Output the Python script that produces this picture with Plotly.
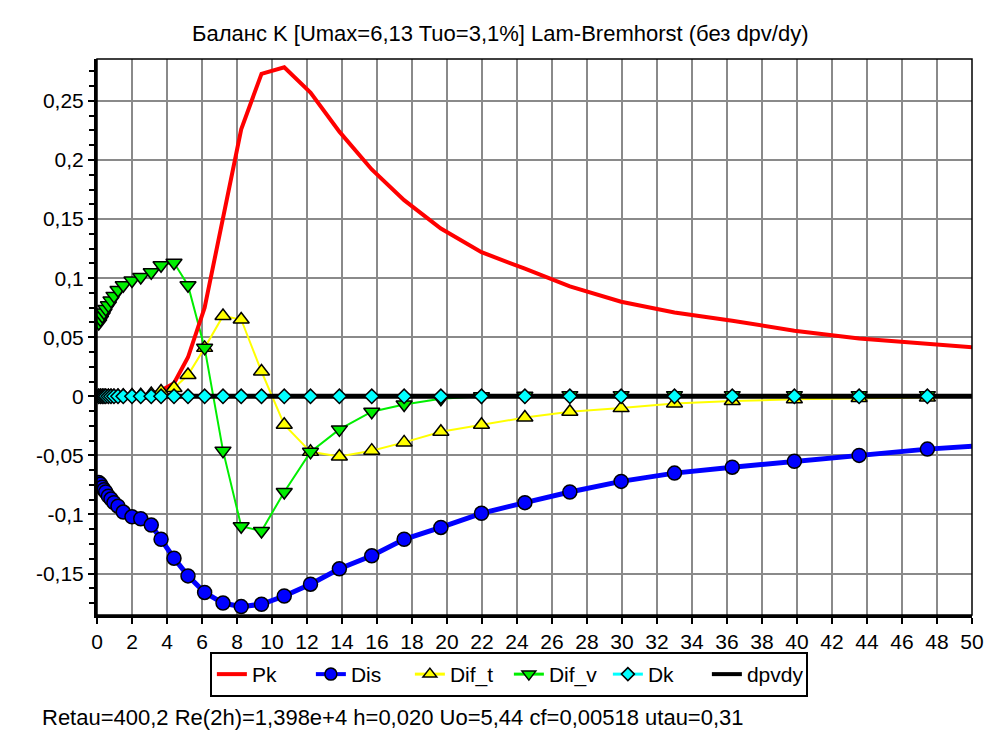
import plotly.graph_objects as go

# y+ positions of the profile stations
y_plus = [0.1, 0.2, 0.3, 0.4, 0.5, 0.65, 0.8, 0.97, 1.2, 1.5, 2.0, 2.5, 3.1, 3.66,
          4.4, 5.2, 6.15, 7.2, 8.24, 9.4, 10.7, 12.2, 13.85, 15.7, 17.55, 19.65,
          21.97, 24.45, 27.02, 29.95, 33.0, 36.3, 39.85, 43.55, 47.45, 51.3]

# production
pk = [0.0, 0.0, 0.0, 0.0, 0.0, 0.0, 0.0, 0.0, 0.0, 0.0002, 0.0004, 0.0008, 0.002, 0.005,
      0.011, 0.033, 0.075, 0.150, 0.226, 0.273, 0.2785, 0.257, 0.224, 0.192, 0.166, 0.142,
      0.122, 0.108, 0.093, 0.080, 0.071, 0.064, 0.0555, 0.049, 0.0447, 0.040]

# dissipation
dis = [-0.073, -0.0745, -0.077, -0.079, -0.081, -0.0845, -0.087, -0.090, -0.093, -0.098,
       -0.102, -0.1036, -0.109, -0.121, -0.137, -0.152, -0.166, -0.175, -0.178, -0.176,
       -0.169, -0.159, -0.146, -0.135, -0.121, -0.111, -0.099, -0.090, -0.081, -0.072,
       -0.065, -0.060, -0.055, -0.050, -0.0447, -0.041]

# turbulent diffusion
dif_t = [0.0, 0.0, 0.0, 0.0, 0.0, 0.0, 0.0, 0.0, 0.0003, 0.0005, 0.0008, 0.001, 0.002, 0.004,
         0.007, 0.018, 0.041, 0.068, 0.065, 0.021, -0.024, -0.047, -0.051, -0.046, -0.039,
         -0.030, -0.024, -0.018, -0.013, -0.010, -0.006, -0.004, -0.0025, -0.0015, -0.001, 0.0]

# viscous diffusion
dif_v = [0.062, 0.065, 0.068, 0.071, 0.074, 0.077, 0.081, 0.085, 0.090, 0.094, 0.098,
         0.101, 0.105, 0.111, 0.113, 0.094, 0.041, -0.046, -0.110, -0.114, -0.081, -0.047,
         -0.028, -0.013, -0.007, -0.002, 0.0, 0.0005, 0.001, 0.001, 0.001, 0.001, 0.001,
         0.001, 0.001, 0.001]

# Dk term
dk = [0.0, 0.0, 0.0, 0.0, 0.0, 0.0, 0.0, 0.0, 0.0, 0.0, 0.0, 0.0, 0.0, 0.0, 0.0, 0.0,
      0.0, 0.0, 0.0, 0.0, 0.0, 0.0, 0.0, 0.0, 0.0, 0.0, 0.0, 0.0, 0.0, 0.0, 0.0, 0.0,
      0.0, 0.0, 0.0, 0.0]

# pressure diffusion (switched off)
dpvdy_x = [0.0, 51.3]
dpvdy = [0.0, 0.0]

x_ticks = [0, 2, 4, 6, 8, 10, 12, 14, 16, 18, 20, 22, 24, 26, 28, 30, 32, 34, 36, 38,
           40, 42, 44, 46, 48, 50]
y_ticks = [-0.15, -0.1, -0.05, 0.0, 0.05, 0.1, 0.15, 0.2, 0.25]
y_tick_text = ["-0,15", "-0,1", "-0,05", "0", "0,05", "0,1", "0,15", "0,2", "0,25"]

title_text = "Баланс K [Umax=6,13 Tuo=3,1%] Lam-Bremhorst (без dpv/dy)"
footer_text = "Retau=400,2 Re(2h)=1,398e+4 h=0,020 Uo=5,44 cf=0,00518 utau=0,31"

FONT = "Liberation Sans, Arial, sans-serif"
RED, BLUE, YELLOW, GREEN, CYAN = "#ff0000", "#0000ff", "#ffff00", "#00ee00", "#00ffff"

fig = go.Figure()

# coloured curves (lines only) go underneath the black zero line
fig.add_trace(go.Scatter(x=y_plus, y=dif_t, mode="lines", line=dict(color=YELLOW, width=2),
                         showlegend=False, hoverinfo="skip"))
fig.add_trace(go.Scatter(x=y_plus, y=dif_v, mode="lines", line=dict(color=GREEN, width=2),
                         showlegend=False, hoverinfo="skip"))
fig.add_trace(go.Scatter(x=y_plus, y=dk, mode="lines", line=dict(color=CYAN, width=2),
                         showlegend=False, hoverinfo="skip"))
fig.add_trace(go.Scatter(x=y_plus, y=pk, mode="lines", line=dict(color=RED, width=4),
                         showlegend=False, hoverinfo="skip"))
fig.add_trace(go.Scatter(x=dpvdy_x, y=dpvdy, mode="lines", line=dict(color="black", width=5),
                         showlegend=False, hoverinfo="skip"))
fig.add_trace(go.Scatter(x=y_plus, y=dis, mode="lines", line=dict(color=BLUE, width=5),
                         showlegend=False, hoverinfo="skip"))

# point markers on top
outline = dict(color="black", width=1.5)
fig.add_trace(go.Scatter(x=y_plus, y=dis, mode="markers", showlegend=False,
                         marker=dict(symbol="circle", size=14, color=BLUE, line=outline)))
fig.add_trace(go.Scatter(x=y_plus, y=dif_t, mode="markers", showlegend=False,
                         marker=dict(symbol="triangle-up", size=14, color=YELLOW, line=outline)))
fig.add_trace(go.Scatter(x=y_plus, y=dif_v, mode="markers", showlegend=False,
                         marker=dict(symbol="triangle-down", size=14, color=GREEN, line=outline)))
fig.add_trace(go.Scatter(x=y_plus, y=dk, mode="markers", showlegend=False,
                         marker=dict(symbol="diamond", size=11, color=CYAN, line=outline)))

# legend entries
legend_items = [
    ("Pk", dict(color=RED, width=4), None),
    ("Dis", dict(color=BLUE, width=4), dict(symbol="circle", size=12, color=BLUE, line=outline)),
    ("Dif_t", dict(color=YELLOW, width=3), dict(symbol="triangle-up", size=12, color=YELLOW, line=outline)),
    ("Dif_v", dict(color=GREEN, width=3), dict(symbol="triangle-down", size=12, color=GREEN, line=outline)),
    ("Dk", dict(color=CYAN, width=3), dict(symbol="diamond", size=10, color=CYAN, line=outline)),
    ("dpvdy\u00a0\u00a0", dict(color="black", width=4), None),
]
for name, ln, mk in legend_items:
    fig.add_trace(go.Scatter(x=[None], y=[None], name=name,
                             mode="lines+markers" if mk else "lines",
                             line=ln, marker=mk if mk else dict()))

grid_col = "#8a8a8a"
fig.update_layout(
    width=985, height=738,
    margin=dict(l=97, r=13, t=59, b=123, autoexpand=False),
    paper_bgcolor="white", plot_bgcolor="white",
    font=dict(family=FONT, size=20, color="black"),
    showlegend=True,
    legend=dict(orientation="h", x=0.129, y=-0.0665, xanchor="left", yanchor="top",
                bordercolor="black", borderwidth=2, bgcolor="white",
                font=dict(family=FONT, size=21), entrywidth=54, entrywidthmode="pixels",
                itemwidth=30, traceorder="normal"),
    xaxis=dict(range=[0, 50], tickvals=x_ticks, ticktext=[str(v) for v in x_ticks],
               automargin=False,
               showgrid=True, gridcolor=grid_col, gridwidth=2, zeroline=False,
               showline=True, linecolor="black", linewidth=3,
               ticks="outside", ticklen=6, tickcolor="black", tickwidth=1.5,
               tickfont=dict(size=21)),
    yaxis=dict(range=[-0.1851, 0.2855], tickvals=y_ticks, ticktext=y_tick_text,
               automargin=False,
               showgrid=True, gridcolor=grid_col, gridwidth=2, zeroline=False,
               showline=True, linecolor="black", linewidth=3,
               ticks="outside", ticklen=6, tickcolor="black", tickwidth=1.5,
               minor=dict(dtick=0.0125, tick0=0, ticks="outside", ticklen=5,
                          tickcolor="black", tickwidth=1.5, showgrid=False),
               tickfont=dict(size=21)),
    shapes=[dict(type="rect", xref="paper", yref="paper", x0=0, y0=0, x1=1, y1=1,
                 line=dict(color="black", width=1.5), layer="above")],
    annotations=[
        dict(text=title_text, xref="paper", yref="paper", x=0.4606, y=1.045,
             xanchor="center", yanchor="middle", showarrow=False,
             font=dict(family=FONT, size=22)),
        dict(text=footer_text, xref="paper", yref="paper", x=-0.0651, y=-0.1835,
             xanchor="left", yanchor="middle", showarrow=False,
             font=dict(family=FONT, size=22)),
    ],
)

fig.write_html("out.html")
